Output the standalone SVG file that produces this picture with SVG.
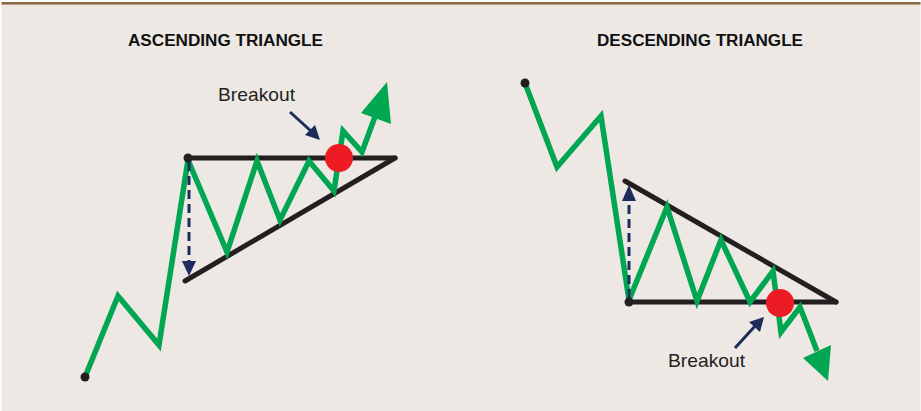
<svg xmlns="http://www.w3.org/2000/svg" width="921" height="411" viewBox="0 0 921 411">
  <style>
    .price { fill: none; stroke: #00A651; stroke-width: 5.5; stroke-linejoin: miter; stroke-miterlimit: 3; }
    .head { fill: #00A651; }
    .bound { fill: none; stroke: #231F20; stroke-width: 5; stroke-linecap: round; }
    .dot { fill: #231F20; }
    .measure { fill: none; stroke: #1C2C5B; stroke-width: 3; stroke-dasharray: 9 5; }
    .pointer { fill: none; stroke: #1C2C5B; stroke-width: 3; }
    .navy { fill: #1C2C5B; }
    .breakout { fill: #ED1C24; }
    .title { font-family: "Liberation Sans", Arial, sans-serif; font-weight: bold; font-size: 16px; fill: #111; }
    .label { font-family: "Liberation Sans", Arial, sans-serif; font-size: 19px; fill: #231F20; }
  </style>
  <rect x="0" y="0" width="921" height="411" fill="#ffffff"/>
  <rect x="1.5" y="3" width="919" height="408" fill="#EDE8E4"/>
  <rect x="1.5" y="2" width="919" height="2.6" fill="#8B6A48"/>

  <g id="ascending-triangle">
    <text class="title" x="128" y="46" textLength="195" lengthAdjust="spacingAndGlyphs">ASCENDING TRIANGLE</text>
    <line class="bound" x1="188" y1="158" x2="395" y2="158"/>
    <line class="bound" x1="185" y1="281" x2="395" y2="158"/>
    <polyline class="price" points="85,377 118,296 159,345 188,160 227,252 257,161 280,220 309,161 334,191 343,131 362,152 376,114"/>
    <polygon class="head" points="387,82 361,113 391,124"/>
    <line class="measure" x1="189" y1="162" x2="189" y2="262"/>
    <polygon class="navy" points="189,276 182,261 196,261"/>
    <circle class="dot" cx="85" cy="377" r="4.5"/>
    <circle class="dot" cx="188" cy="158" r="4.5"/>
    <circle class="breakout" cx="339" cy="158" r="14"/>
    <text class="label" x="218" y="101" textLength="77" lengthAdjust="spacingAndGlyphs">Breakout</text>
    <line class="pointer" x1="290" y1="112" x2="312" y2="132"/>
    <polygon class="navy" points="320,140 305,135 315,125"/>
  </g>

  <g id="descending-triangle">
    <text class="title" x="597" y="46" textLength="206" lengthAdjust="spacingAndGlyphs">DESCENDING TRIANGLE</text>
    <line class="bound" x1="625" y1="181" x2="836" y2="302"/>
    <line class="bound" x1="629" y1="302" x2="836" y2="302"/>
    <polyline class="price" points="525,83 557,167 601,116 629,300 667,207 697,301 721,240 750,302 773,271 781,332 800,307 817,351"/>
    <polygon class="head" points="828,381 803,358 831,345"/>
    <line class="measure" x1="629" y1="298" x2="629" y2="200"/>
    <polygon class="navy" points="629,185 622,201 636,201"/>
    <circle class="dot" cx="525" cy="83" r="4.5"/>
    <circle class="dot" cx="629" cy="302" r="4.5"/>
    <circle class="breakout" cx="780" cy="303" r="14"/>
    <text class="label" x="668" y="367" textLength="77" lengthAdjust="spacingAndGlyphs">Breakout</text>
    <line class="pointer" x1="735" y1="348" x2="756" y2="325"/>
    <polygon class="navy" points="764,317 760,332 749,322"/>
  </g>
</svg>
